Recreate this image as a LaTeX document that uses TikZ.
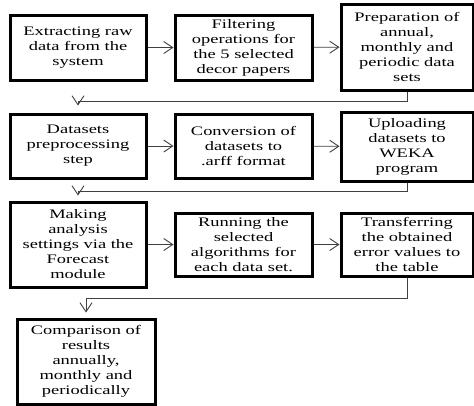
\documentclass[tikz,border=0pt]{standalone}
\usepackage{fontspec}
\setmainfont{Liberation Serif}[FakeStretch=1.42]
\usetikzlibrary{arrows.meta}

\tikzset{
    stage/.style={draw, line width=3pt, align=center, inner sep=0pt,
        font=\fontsize{13}{15}\selectfont},
    link/.style={draw=black!75, line width=0.9pt,
        -{Straight Barb[length=9pt,width=12pt]}}
}

\begin{document}
\begin{tikzpicture}[x=1pt, y=-1pt]
        \useasboundingbox (0, 0) rectangle (474, 405);

        \node[stage, minimum width=136, minimum height=65] (extract) at (78, 47.5)
            {Extracting raw\\data from the\\system};
        \node[stage, minimum width=137, minimum height=65] (filter) at (243.5, 47.5)
            {Filtering\\operations for\\the 5 selected\\decor papers};
        \node[stage, minimum width=132, minimum height=86] (prepare) at (407, 47)
            {Preparation of\\annual,\\monthly and\\periodic data\\sets};

        \node[stage, minimum width=136, minimum height=64] (preproc) at (78, 146)
            {Datasets\\preprocessing\\step};
        \node[stage, minimum width=137, minimum height=64] (convert) at (243.5, 146)
            {Conversion of\\datasets to\\.arff format};
        \node[stage, minimum width=132, minimum height=69] (upload) at (407, 146.5)
            {Uploading\\datasets to\\WEKA\\program};

        \node[stage, minimum width=136, minimum height=85] (settings) at (78, 244.5)
            {Making\\analysis\\settings via the\\Forecast\\module};
        \node[stage, minimum width=137, minimum height=63] (run) at (243.5, 244.5)
            {Running the\\selected\\algorithms for\\each data set.};
        \node[stage, minimum width=132, minimum height=63] (transfer) at (407, 244.5)
            {Transferring\\the obtained\\error values to\\the table};

        \node[stage, minimum width=138, minimum height=85] (compare) at (86, 361.5)
            {Comparison of\\results\\annually,\\monthly and\\periodically};

        \draw[link] (extract) -- (filter);
        \draw[link] (filter) -- (prepare);
        \draw[link] (preproc) -- (convert);
        \draw[link] (convert) -- (upload);
        \draw[link] (settings.east |- run) -- (run);
        \draw[link] (run) -- (transfer);

        \draw[link, shorten >=7pt] (prepare.south) -- ++(0, 10) -| (preproc.north);
        \draw[link, shorten >=5pt] (upload.south) -- ++(0, 9) -| (settings.north);
        \draw[link, shorten >=5pt] (transfer.south) -- ++(0, 21) -| (compare.north);
    \end{tikzpicture}
\end{document}
